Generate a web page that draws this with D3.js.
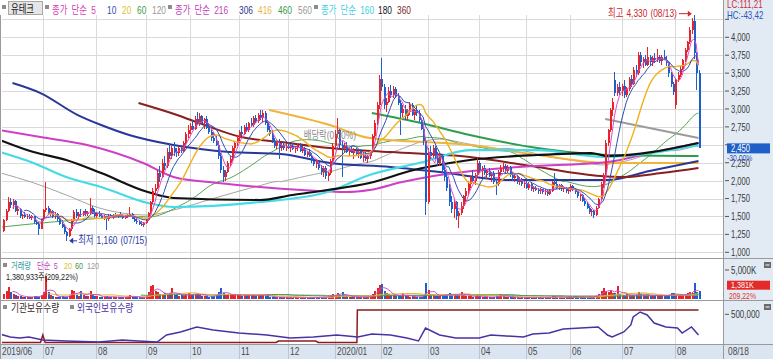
<!DOCTYPE html>
<html><head><meta charset="utf-8">
<script src="https://cdn.jsdelivr.net/npm/d3@7/dist/d3.min.js"></script>
<style>
html,body{margin:0;padding:0;background:#fff;overflow:hidden;}
svg{display:block;}
</style></head><body>
<svg id="chart" width="773" height="359"></svg>
<script>
// ================= DATA =================
const stockName = "유테크";
const monthLabels = ["2019/06","07","08","09","10","11","12","2020/01","02","03","04","05","06","07","08"];
const monthStartIdx = [0,17,40,61,80,101,122,142,162,182,204,224,243,265,288];
const lastDateLabel = "08/18";
const priceTicks = [1000,1250,1500,1750,2000,2250,2500,2750,3000,3250,3500,3750,4000,4250];

// daily candles [open, high, low, close]
const candles = [
// 2019/06
[1300,1460,1280,1450],[1450,1600,1430,1580],[1580,1770,1560,1700],[1700,1760,1620,1660],[1660,1740,1600,1720],
[1720,1730,1560,1580],[1580,1640,1520,1610],[1610,1620,1480,1500],[1500,1540,1470,1520],[1520,1560,1480,1490],
[1490,1530,1460,1510],[1510,1540,1470,1480],[1480,1520,1450,1500],[1500,1510,1400,1420],[1420,1450,1380,1400],
[1400,1420,1240,1330],[1330,1470,1320,1460],
// 07
[1460,1600,1440,1590],[1590,1980,1560,1620],[1620,1650,1520,1540],[1540,1600,1500,1580],[1580,1590,1480,1500],
[1500,1560,1470,1530],[1530,1550,1440,1460],[1460,1480,1380,1400],[1400,1450,1340,1360],[1360,1380,1250,1280],
[1280,1300,1160,1230],[1230,1340,1220,1320],[1320,1460,1300,1440],[1440,1590,1420,1560],[1560,1600,1480,1500],
[1500,1560,1470,1540],[1540,1600,1490,1520],[1520,1580,1500,1570],[1570,1610,1510,1530],[1530,1570,1500,1550],
[1550,1760,1540,1620],[1620,1650,1540,1560],[1560,1600,1480,1500],
// 08
[1500,1560,1480,1540],[1540,1570,1490,1510],[1510,1540,1470,1480],[1480,1520,1450,1500],[1500,1510,1310,1460],
[1460,1530,1440,1510],[1510,1540,1480,1490],[1490,1530,1470,1520],[1520,1550,1490,1500],[1500,1540,1480,1530],
[1530,1560,1500,1510],[1510,1530,1470,1480],[1480,1520,1460,1500],[1500,1540,1480,1520],[1520,1630,1500,1540],
[1540,1550,1460,1470],[1470,1500,1420,1440],[1440,1480,1400,1420],[1420,1450,1380,1400],[1400,1440,1370,1380],
[1380,1420,1360,1410],
// 09
[1410,1460,1400,1450],[1450,1560,1440,1550],[1550,1720,1540,1700],[1700,1900,1680,1860],[1860,1950,1800,1900],
[1900,2150,1880,2100],[2100,2200,1980,2050],[2050,2300,2040,2250],[2250,2350,2150,2200],[2200,2450,2180,2400],
[2400,2520,2300,2350],[2350,2480,2300,2450],[2450,2540,2350,2400],[2400,2450,2330,2380],[2380,2480,2340,2450],
[2450,2500,2380,2420],[2420,2560,2400,2530],[2530,2680,2500,2650],[2650,2780,2600,2700],
// 10
[2700,2800,2650,2760],[2760,2850,2700,2720],[2720,2900,2700,2860],[2860,2960,2780,2800],[2800,2940,2760,2900],
[2900,2920,2780,2800],[2800,2880,2720,2860],[2860,2900,2720,2740],[2740,2800,2650,2680],[2680,2720,2560,2600],
[2600,2680,2520,2560],[2560,2620,2480,2500],[2500,2560,2300,2350],[2350,2380,2100,2150],[2150,2200,1980,2050],
[2050,2150,2000,2120],[2120,2280,2100,2250],[2250,2350,2200,2300],[2300,2480,2280,2450],[2450,2560,2400,2530],
[2530,2640,2480,2600],
// 11
[2600,2700,2560,2680],[2680,2760,2620,2650],[2650,2780,2630,2750],[2750,2800,2680,2700],[2700,2820,2680,2800],
[2800,2880,2760,2780],[2780,2900,2750,2870],[2870,2920,2800,2830],[2830,2950,2800,2920],[2920,2980,2850,2880],
[2880,2990,2820,2950],[2950,2970,2780,2800],[2800,2850,2680,2700],[2700,2760,2620,2650],[2650,2700,2520,2550],
[2550,2600,2450,2480],[2480,2560,2440,2530],[2530,2580,2300,2460],[2460,2520,2420,2500],[2500,2540,2430,2450],
[2450,2520,2420,2490],
// 12
[2490,2540,2440,2460],[2460,2500,2400,2480],[2480,2530,2430,2440],[2440,2480,2380,2460],[2460,2520,2420,2500],
[2500,2520,2400,2420],[2420,2480,2380,2450],[2450,2470,2340,2360],[2360,2420,2330,2400],[2400,2440,2330,2350],
[2350,2380,2250,2280],[2280,2320,2200,2230],[2230,2300,2180,2260],[2260,2280,2150,2180],[2180,2220,2080,2120],
[2120,2200,2050,2170],[2170,2200,2020,2060],[2060,2120,1990,2100],[2100,2300,2080,2280],[2280,2520,2260,2480],
// 2020/01
[2480,2700,2450,2650],[2650,2870,2600,2700],[2700,2720,2450,2500],[2500,2550,2050,2450],[2450,2520,2400,2480],
[2480,2540,2380,2400],[2400,2460,2350,2430],[2430,2480,2380,2390],[2390,2450,2300,2420],[2420,2460,2350,2370],
[2370,2420,2320,2400],[2400,2440,2300,2320],[2320,2380,2260,2350],[2350,2400,2280,2300],[2300,2360,2250,2340],
[2340,2420,2300,2400],[2400,2650,2380,2620],[2620,2850,2600,2800],[2800,3100,2780,3050],[3050,3480,3000,3420],
// 02
[3420,3710,3250,3300],[3300,3350,3000,3050],[3050,3150,2960,3100],[3100,3300,3080,3250],[3250,3330,3150,3200],
[3200,3320,3150,3280],[3280,3300,3150,3180],[3180,3220,3050,3080],[3080,3120,2640,2950],[2950,3050,2880,3000],
[3000,3050,2850,2900],[2900,3000,2850,2960],[2960,3100,2920,3050],[3050,3080,2900,2920],[2920,3000,2850,2980],
[2980,3060,2900,2940],[2940,2980,2820,2850],[2850,2880,2700,2720],[2720,2750,2500,2550],[2550,2600,1520,1700],
// 03
[1700,2450,1680,2400],[2400,2480,2300,2350],[2350,2500,2320,2460],[2460,2480,2300,2320],[2320,2400,2200,2250],
[2250,2380,2200,2350],[2350,2360,2100,2150],[2150,2250,2000,2050],[2050,2100,1850,1900],[1900,1950,1650,1700],
[1700,1780,1550,1600],[1600,1750,1480,1700],[1700,1720,1450,1500],[1500,1580,1340,1550],[1550,1700,1520,1650],
[1650,1800,1600,1780],[1780,1900,1700,1850],[1850,2000,1800,1950],[1950,2080,1900,2050],[2050,2150,1980,2000],
[2000,2100,1940,2080],[2080,2310,2050,2250],
// 04
[2250,2280,2100,2150],[2150,2200,2050,2180],[2180,2220,2080,2100],[2100,2160,2020,2130],[2130,2180,2050,2070],
[2070,2120,1980,2090],[2090,2130,1950,1980],[1980,2020,1800,1950],[1950,2150,1930,2120],[2120,2220,2080,2180],
[2180,2240,2120,2200],[2200,2230,2100,2140],[2140,2220,2100,2190],[2190,2200,2050,2080],[2080,2120,2000,2030],
[2030,2100,1980,2060],[2060,2080,1950,1980],[1980,2050,1940,2010],[2010,2040,1920,1950],[1950,2000,1900,1970],
// 05
[1970,2000,1880,1900],[1900,1980,1870,1950],[1950,1970,1860,1880],[1880,1920,1840,1900],[1900,1930,1850,1870],
[1870,1900,1820,1850],[1850,1900,1810,1880],[1880,1890,1820,1840],[1840,1880,1800,1860],[1860,1870,1790,1820],
[1820,1880,1800,1850],[1850,2000,1840,1980],[1980,2100,1940,1960],[1960,2000,1880,1900],[1900,1960,1870,1940],
[1940,1950,1860,1880],[1880,1920,1840,1900],[1900,1910,1830,1850],[1850,1890,1810,1870],
// 06
[1870,1950,1840,1920],[1920,1940,1850,1870],[1870,1900,1820,1840],[1840,1860,1760,1780],[1780,1820,1720,1800],
[1800,1810,1700,1720],[1720,1760,1650,1680],[1680,1700,1600,1620],[1620,1650,1540,1560],[1560,1600,1500,1580],
[1580,1590,1480,1520],[1520,1640,1510,1620],[1620,1760,1600,1740],[1740,1980,1720,1950],[1950,2100,1900,2080],
[2080,2570,2060,2520],[2520,2720,2480,2700],[2700,3010,2680,2980],[2980,3150,2900,3100],[3400,3520,3180,3220],
[3220,3350,3180,3300],[3300,3380,3200,3250],
// 07
[3250,3350,3180,3320],[3320,3400,3150,3200],[3200,3300,3170,3280],[3280,3450,3250,3420],[3420,3470,3300,3350],
[3350,3580,3330,3550],[3550,3620,3450,3500],[3500,3800,3480,3760],[3760,3790,3600,3650],[3650,3720,3570,3700],
[3700,3750,3600,3620],[3620,3860,3600,3720],[3720,3760,3620,3650],[3650,3740,3600,3710],[3710,3780,3640,3680],
[3680,3840,3660,3730],[3730,3760,3640,3670],[3670,3750,3620,3720],[3720,3820,3680,3690],[3690,3740,3600,3640],
[3640,3660,3450,3500],[3500,3520,3300,3350],[3350,3380,3200,3240],
// 08
[3050,3430,3000,3400],[3400,3520,3380,3480],[3480,3600,3450,3560],[3560,3700,3540,3680],[3680,3850,3660,3820],
[3820,3950,3800,3930],[3930,4150,3900,4100],[4100,4270,4050,4230],[4230,4330,3700,3780],[3780,3800,3260,3500],
[3500,3540,2450,2450]
];

// daily volume, thousands of shares
const volumes = [
900,1400,2170,1300,900,700,600,500,450,400,380,420,350,500,600,450,700,
1200,3900,1300,700,500,450,400,380,500,450,420,600,1600,1500,800,600,1450,700,500,600,1500,900,600,
500,450,400,380,600,420,400,380,350,400,380,350,330,400,700,450,380,350,330,320,350,
400,1200,2350,2400,1500,1300,900,800,1000,900,1100,1900,800,700,600,650,700,900,1000,
800,700,900,1000,800,600,550,500,450,500,600,800,1200,1900,1000,700,800,700,900,800,700,
700,600,650,600,700,650,700,600,650,700,800,600,500,450,400,380,350,400,350,330,320,
300,320,300,280,300,290,280,300,270,260,300,320,300,350,400,380,420,400,600,900,
800,1000,700,1200,600,500,450,400,380,350,400,380,350,330,350,400,900,1500,2000,2400,
2600,1500,1000,900,800,700,600,550,500,1100,600,500,450,500,400,380,400,450,600,2760,
1600,900,700,600,550,600,700,800,900,1000,800,700,900,800,1300,700,600,550,500,450,500,700,
500,450,400,380,400,350,380,500,600,900,500,450,400,380,350,330,320,300,320,300,
300,320,280,300,290,280,270,300,280,270,260,500,600,400,350,320,300,280,300,
300,280,270,300,320,350,400,450,500,450,400,600,900,1400,2000,1400,1200,1600,1100,1000,2200,900,
800,700,900,700,650,800,700,1300,900,700,600,800,650,600,700,650,600,550,600,650,800,1100,1000,
800,700,650,750,900,1000,1200,1100,2760,1300,1381
];

// long moving averages: [day index, price]
const ma216 = [[-1.4,2706],[16,2609],[36,2497],[60,2246],[73,2051],[92,1967],[110,1911],[128,1869],[147,1841],[157,1869],[171,1981],[182,2051],[221,2190],[259,2260],[277,2385],[298,2525]];
const ma306 = [[4,3362],[16,3222],[32,2915],[42,2776],[54,2637],[73,2497],[97,2399],[119,2371],[140,2246],[166,2190],[187,2120],[217,2009],[259,2009],[277,2134],[298,2274]];
const ma416 = [[114,2986],[140,2776],[157,2595],[200,2497],[229,2358],[260,2246],[298,2246]];
const ma460 = [[158,2943],[179,2804],[200,2637],[229,2455],[260,2358],[298,2344]];
const ma560 = [[258,2860],[298,2595]];
const ma160 = [[-1.4,2399],[13,2246],[27,2051],[42,1911],[62,1688],[73,1632],[110,1702],[139,1841],[157,2079],[180,2260],[200,2427],[229,2427],[257,2330],[298,2497]];
const ma180 = [[-1.4,2567],[13,2399],[27,2288],[42,2106],[62,1841],[73,1758],[110,1730],[124,1800],[139,1869],[157,1967],[176,2148],[182,2190],[200,2288],[229,2358],[252,2385],[259,2344],[298,2525]];
const ma360 = [[58,3083],[72,2943],[84,2804],[102,2609],[119,2539],[140,2455],[166,2399],[200,2330],[229,2190],[256,2065],[266,2051],[282,2106],[298,2176]];
// early part of the 60 / 120 day averages (before enough visible days)
const ma60Lead = [[-1.4,1350],[20,1420],[40,1470],[58,1500]];
const ma120Lead = [[-1.4,2110],[13,1970],[27,1800],[41,1620],[62,1520],[73,1590],[90,1750],[110,1930],[118,1990]];

// holdings [day index, shares]
const foreignHold = [[-1.4,157000],[3,105000],[7,87000],[11,105000],[17,52000],[27,35000],[41,17000],[51,52000],[58,35000],[66,17000],[70,139000],[76,192000],[83,279000],[90,226000],[101,174000],[113,139000],[123,87000],[133,105000],[143,139000],[152,105000],[158,157000],[166,139000],[173,87000],[178,35000],[181,261000],[187,139000],[194,87000],[204,87000],[209,139000],[223,105000],[227,157000],[234,174000],[240,244000],[255,279000],[259,139000],[261,105000],[266,192000],[269,314000],[270,453000],[273,540000],[276,488000],[279,348000],[284,279000],[289,261000],[291,174000],[295,279000],[298,139000]];
const instHold = [[-1.4,10000],[16,10000],[17,139000],[18,10000],[117,10000],[118,35000],[134,35000],[135,10000],[151.6,10000],[151.8,575000],[298,575000]];

const exDividendIdx = 140;
const exDividendText = "배당락(0.00%)";
const lcText = "LC:111,21", hcText = "HC:-43,42";
const lastChangeText = "-30,00%";
const volumeInfoText = "1,380,933주(209,22%)";
const lastVolumeText = "1,381K", volumeRatioText = "209,22%";
const volumeTickK = 5000, holdTick = 500000;

// ================= CHART =================
const svg = d3.select("#chart");
const W = 773, H = 359, L = 2, R = 723;
const PT = 15, PB = 258, VB = 300, OB = 344;
const SX = 0.76;
const FONT = '"Liberation Sans Narrow","Liberation Sans","Noto Sans CJK KR",sans-serif';

const x = d3.scaleLinear().domain([-0.5, 308.5]).range([L, R]);
const y = d3.scaleLinear().domain([1000, 4000]).range([252.3, 37.3]);
const yv = d3.scaleLinear().domain([0, volumeTickK]).range([299.3, 270]);
const yo = d3.scaleLinear().domain([0, holdTick]).range([343, 314.3]);

function txt(parent, px, py, s, o = {}) {
  return parent.append("text")
    .attr("transform", `translate(${px},${py}) scale(${o.sx || SX},1)`)
    .attr("font-family", FONT)
    .attr("font-size", o.size || 11)
    .attr("fill", o.fill || "#333")
    .attr("text-anchor", o.anchor || "start")
    .attr("word-spacing", o.ws || 0)
    .text(s);
}
function sq(px, py) {
  svg.append("rect").attr("x", px).attr("y", py).attr("width", 4).attr("height", 4).attr("fill", "#8c8c8c");
}

// backgrounds
svg.append("rect").attr("width", W).attr("height", H).attr("fill", "#fff");
svg.append("rect").attr("x", R).attr("y", 0).attr("width", W - R).attr("height", OB).attr("fill", "#e2eaf4");
svg.append("rect").attr("x", 0).attr("y", OB).attr("width", W).attr("height", H - OB).attr("fill", "#dbe5f1");

// clip paths
const defs = svg.append("defs");
defs.append("clipPath").attr("id", "cm").append("rect").attr("x", L).attr("y", PT).attr("width", R - L).attr("height", PB - PT);
defs.append("clipPath").attr("id", "cv").append("rect").attr("x", L).attr("y", PB).attr("width", R - L).attr("height", VB - PB);
defs.append("clipPath").attr("id", "co").append("rect").attr("x", L).attr("y", VB).attr("width", R - L).attr("height", OB - VB);

// grid
const grid = svg.append("g").attr("stroke", "#dadada").attr("stroke-width", 1).attr("shape-rendering", "crispEdges");
priceTicks.forEach(p => {
  const yy = Math.round(y(p)) + 0.5;
  grid.append("line").attr("x1", L).attr("x2", R).attr("y1", yy).attr("y2", yy);
});
monthStartIdx.slice(1).forEach(i => {
  const xx = Math.round(x(i)) + 0.5;
  grid.append("line").attr("x1", xx).attr("x2", xx).attr("y1", PT).attr("y2", OB);
  svg.append("line").attr("x1", xx).attr("x2", xx).attr("y1", OB).attr("y2", H)
    .attr("stroke", "#b9c6d6").attr("shape-rendering", "crispEdges");
});

// panel borders
const bd = svg.append("g").attr("stroke", "#9a9a9a").attr("shape-rendering", "crispEdges");
bd.append("line").attr("x1", 0).attr("x2", W).attr("y1", PB + 0.5).attr("y2", PB + 0.5);
bd.append("line").attr("x1", 0).attr("x2", W).attr("y1", VB + 0.5).attr("y2", VB + 0.5);
bd.append("line").attr("x1", 0).attr("x2", W).attr("y1", OB + 0.5).attr("y2", OB + 0.5);
bd.append("line").attr("x1", R + 0.5).attr("x2", R + 0.5).attr("y1", 0).attr("y2", H);
bd.append("line").attr("x1", 0.5).attr("x2", 0.5).attr("y1", PT).attr("y2", H);

// ---- price panel ----
const main = svg.append("g").attr("clip-path", "url(#cm)");
const cpLine = d3.line().x(d => x(d[0])).y(d => y(d[1])).curve(d3.curveMonotoneX);
const closes = candles.map(d => d[3]);
function sma(vals, n) { return vals.map((_, i) => i < n - 1 ? null : d3.mean(vals.slice(i - n + 1, i + 1))); }
function withLead(lead, n) {
  const m = sma(closes, n);
  return lead.concat(m.map((v, i) => [i, v]).filter(d => d[1] != null));
}
const longMAs = [
  [ma560, "#9b9b9b", 2], [ma416, "#f1b33a", 2], [ma460, "#2f9d4f", 2], [ma306, "#27379a", 2],
  [ma360, "#8a1f22", 2], [ma216, "#cf3fc6", 2], [ma160, "#44dbe6", 2.2], [ma180, "#111111", 2.2]
];
main.append("path").attr("d", cpLine(withLead(ma120Lead, 120))).attr("fill", "none").attr("stroke", "#a3a3a3").attr("stroke-width", 1);
main.append("path").attr("d", cpLine(withLead(ma60Lead, 60))).attr("fill", "none").attr("stroke", "#4fa64f").attr("stroke-width", 1);
longMAs.forEach(([pts, c, w]) => {
  main.append("path").attr("d", cpLine(pts)).attr("fill", "none").attr("stroke", c).attr("stroke-width", w);
});

// candles
const UP = "#e8232a", DN = "#1d5fcb";
const cg = main.append("g").attr("shape-rendering", "crispEdges");
candles.forEach((d, i) => {
  const [o, h, l, c] = d;
  const col = c >= o ? UP : DN;
  const cx = Math.round(x(i));
  cg.append("line").attr("x1", cx + 0.5).attr("x2", cx + 0.5).attr("y1", y(h)).attr("y2", y(l)).attr("stroke", col);
  const top = y(Math.max(o, c)), bot = y(Math.min(o, c));
  cg.append("rect").attr("x", cx - 0.5).attr("y", top).attr("width", 2).attr("height", Math.max(1, bot - top)).attr("fill", col);
});

// short MAs
const dLine = d3.line().defined(d => d != null).x((d, i) => x(i)).y(d => y(d));
[[sma(closes, 20), "#f0b020", 1.4], [sma(closes, 10), "#2f4fb0", 1], [sma(closes, 5), "#e04cc4", 1]].forEach(([s, c, w]) => {
  main.append("path").attr("d", dLine(s)).attr("fill", "none").attr("stroke", c).attr("stroke-width", w);
});

// annotations
const hiIdx = d3.maxIndex(candles, d => d[1]);
const loIdx = d3.minIndex(candles, d => d[2]);
const hi = candles[hiIdx][1], lo = candles[loIdx][2];
const fmt = d3.format(",");
const hx = x(hiIdx), hy = y(hi);
svg.append("line").attr("x1", hx - 15).attr("x2", hx - 4).attr("y1", hy).attr("y2", hy).attr("stroke", "#d02a2a");
svg.append("path").attr("d", `M${hx - 2},${hy} l-4,-3 l0,6 z`).attr("fill", "#d02a2a");
txt(svg, hx - 17, hy + 3.5, `최고 ${fmt(hi)} (08/13)`, { fill: "#c8282d", anchor: "end", size: 11, ws: 1 });
const lx = x(loIdx), ly = y(lo);
svg.append("path").attr("d", `M${lx + 3},${ly} l4,-3 l0,6 z`).attr("fill", "#2a3aa8");
svg.append("line").attr("x1", lx + 6).attr("x2", lx + 11).attr("y1", ly).attr("y2", ly).attr("stroke", "#2a3aa8");
txt(svg, lx + 12, ly + 3.5, `최저 ${fmt(lo)} (07/15)`, { fill: "#2a3aa8", size: 11, ws: 1 });
txt(svg, x(exDividendIdx), 139, exDividendText, { fill: "#8a8a8a", anchor: "middle", size: 11 });

// ---- volume panel ----
const vg = svg.append("g").attr("clip-path", "url(#cv)").attr("shape-rendering", "crispEdges");
volumes.forEach((v, i) => {
  const d = candles[i];
  const cx = Math.round(x(i));
  vg.append("rect").attr("x", cx - 0.5).attr("y", yv(v)).attr("width", 2).attr("height", Math.max(1, yv(0) - yv(v)))
    .attr("fill", d[3] >= d[0] ? UP : DN);
});
const vLine = d3.line().defined(d => d != null).x((d, i) => x(i)).y(d => yv(d));
const vmain = svg.append("g").attr("clip-path", "url(#cv)");
[[sma(volumes, 120), "#a0a0a0"], [sma(volumes, 60), "#3f9f3f"], [sma(volumes, 20), "#e5b52a"], [sma(volumes, 5), "#d24fc3"]].forEach(([s, c]) => {
  vmain.append("path").attr("d", vLine(s)).attr("fill", "none").attr("stroke", c).attr("stroke-width", 1);
});

// ---- holdings panel ----
const og = svg.append("g").attr("clip-path", "url(#co)");
const oLine = d3.line().x(d => x(d[0])).y(d => yo(d[1]));
og.append("path").attr("d", oLine(instHold)).attr("fill", "none").attr("stroke", "#8b1c22").attr("stroke-width", 1.5);
og.append("path").attr("d", oLine(foreignHold)).attr("fill", "none").attr("stroke", "#4a31a6").attr("stroke-width", 1.5);

// ---- header legend ----
sq(2, 5);
svg.append("rect").attr("x", 8.5).attr("y", 1.5).attr("width", 34).attr("height", 13).attr("fill", "#e6e6e6").attr("stroke", "#a8a8a8");
txt(svg, 11, 12.5, stockName, { fill: "#111", size: 11 });
sq(45, 5);
const hdr = [
  [52, "종가 단순 5", "#d53fae"], [107, "10", "#2f4fa6"], [122, "20", "#e2c22a"], [137, "60", "#3f9a3f"], [152, "120", "#999"],
  [175, "종가 단순 216", "#c23fb8"], [239, "306", "#2d3a8e"], [258, "416", "#eeb43c"], [278, "460", "#2f9a4c"], [298, "560", "#999"],
  [321, "종가 단순 160", "#3fcfdf"], [378, "180", "#111"], [397, "360", "#7d2a2a"]
];
hdr.forEach(([px, s, c]) => txt(svg, px, 14, s, { fill: c, size: 11, ws: 2.5 }));
sq(168, 5); sq(314, 5);

// volume legend
sq(3, 263);
txt(svg, 11, 269, "거래량", { fill: "#2a9c9c", size: 9.5 });
txt(svg, 37, 269, "단순 5", { fill: "#c43fc0", size: 9.5, ws: 2 });
txt(svg, 64, 269, "20", { fill: "#e0c030", size: 9.5 });
txt(svg, 75, 269, "60", { fill: "#3a9a3a", size: 9.5 });
txt(svg, 87, 269, "120", { fill: "#999", size: 9.5 });
txt(svg, 6, 279.5, volumeInfoText, { fill: "#222", size: 9.5 });

// holdings legend
sq(3, 305);
txt(svg, 11, 311.5, "기관보유수량", { fill: "#3a2a2a", size: 11.5 });
sq(70, 305);
txt(svg, 77, 311.5, "외국인보유수량", { fill: "#4a31a6", size: 11.5 });

// ---- right axis ----
const lastC = closes[closes.length - 1];
const lastY = y(lastC);
const ax = svg.append("g");
priceTicks.forEach(p => {
  const yy = y(p);
  ax.append("line").attr("x1", R + 2).attr("x2", R + 6).attr("y1", yy).attr("y2", yy).attr("stroke", "#555");
  // labels hidden behind the current-price box / HC label, as in the reference
  if (Math.abs(yy - lastY) < 7 || yy < 24) return;
  txt(ax, R + 8, yy + 3.9, fmt(p), { fill: "#3a3a3a", size: 10 });
});
txt(svg, R + 4, 8, lcText, { fill: "#d0303a", size: 10.5 });
txt(svg, R + 4, 18.5, hcText, { fill: "#2a55c0", size: 10.5 });
// last price box
svg.append("rect").attr("x", R + 4).attr("y", lastY - 5).attr("width", 43).attr("height", 10).attr("fill", "#1f5fc8");
txt(svg, R + 8, lastY + 3.6, fmt(lastC), { fill: "#fff", size: 10 });
txt(svg, R + 4, lastY + 12.5, lastChangeText, { fill: "#2a55c0", size: 9 });

// volume axis
ax.append("line").attr("x1", R + 2).attr("x2", R + 6).attr("y1", yv(volumeTickK)).attr("y2", yv(volumeTickK)).attr("stroke", "#555");
txt(ax, R + 8, yv(volumeTickK) + 3.7, fmt(volumeTickK) + "K", { fill: "#3a3a3a", size: 10.5 });
const lastV = volumes[volumes.length - 1];
svg.append("rect").attr("x", R + 4).attr("y", yv(lastV) - 10.5).attr("width", 43).attr("height", 9).attr("fill", "#e52a2a");
txt(svg, R + 8, yv(lastV) - 3, lastVolumeText, { fill: "#fff", size: 9.5 });
txt(svg, R + 6, yv(lastV) + 7.5, volumeRatioText, { fill: "#e03030", size: 9 });
// holdings axis
ax.append("line").attr("x1", R + 2).attr("x2", R + 6).attr("y1", yo(holdTick)).attr("y2", yo(holdTick)).attr("stroke", "#555");
txt(ax, R + 8, yo(holdTick) + 3.7, fmt(holdTick), { fill: "#3a3a3a", size: 10.5 });
// panel icons
[262, 304].forEach(iy => {
  svg.append("rect").attr("x", 764).attr("y", iy).attr("width", 7).attr("height", 6).attr("fill", "#6a6a6a");
  svg.append("line").attr("x1", 765.5).attr("x2", 769.5).attr("y1", iy + 3).attr("y2", iy + 3).attr("stroke", "#fff");
});

// ---- date axis ----
monthLabels.forEach((m, k) => {
  const xx = k === 0 ? 2 : Math.round(x(monthStartIdx[k])) + 2;
  txt(svg, xx, 355, m, { fill: "#4a4a4a", size: 11 });
});
txt(svg, R + 5, 355, lastDateLabel, { fill: "#4a4a4a", size: 11 });
</script>
</body></html>
